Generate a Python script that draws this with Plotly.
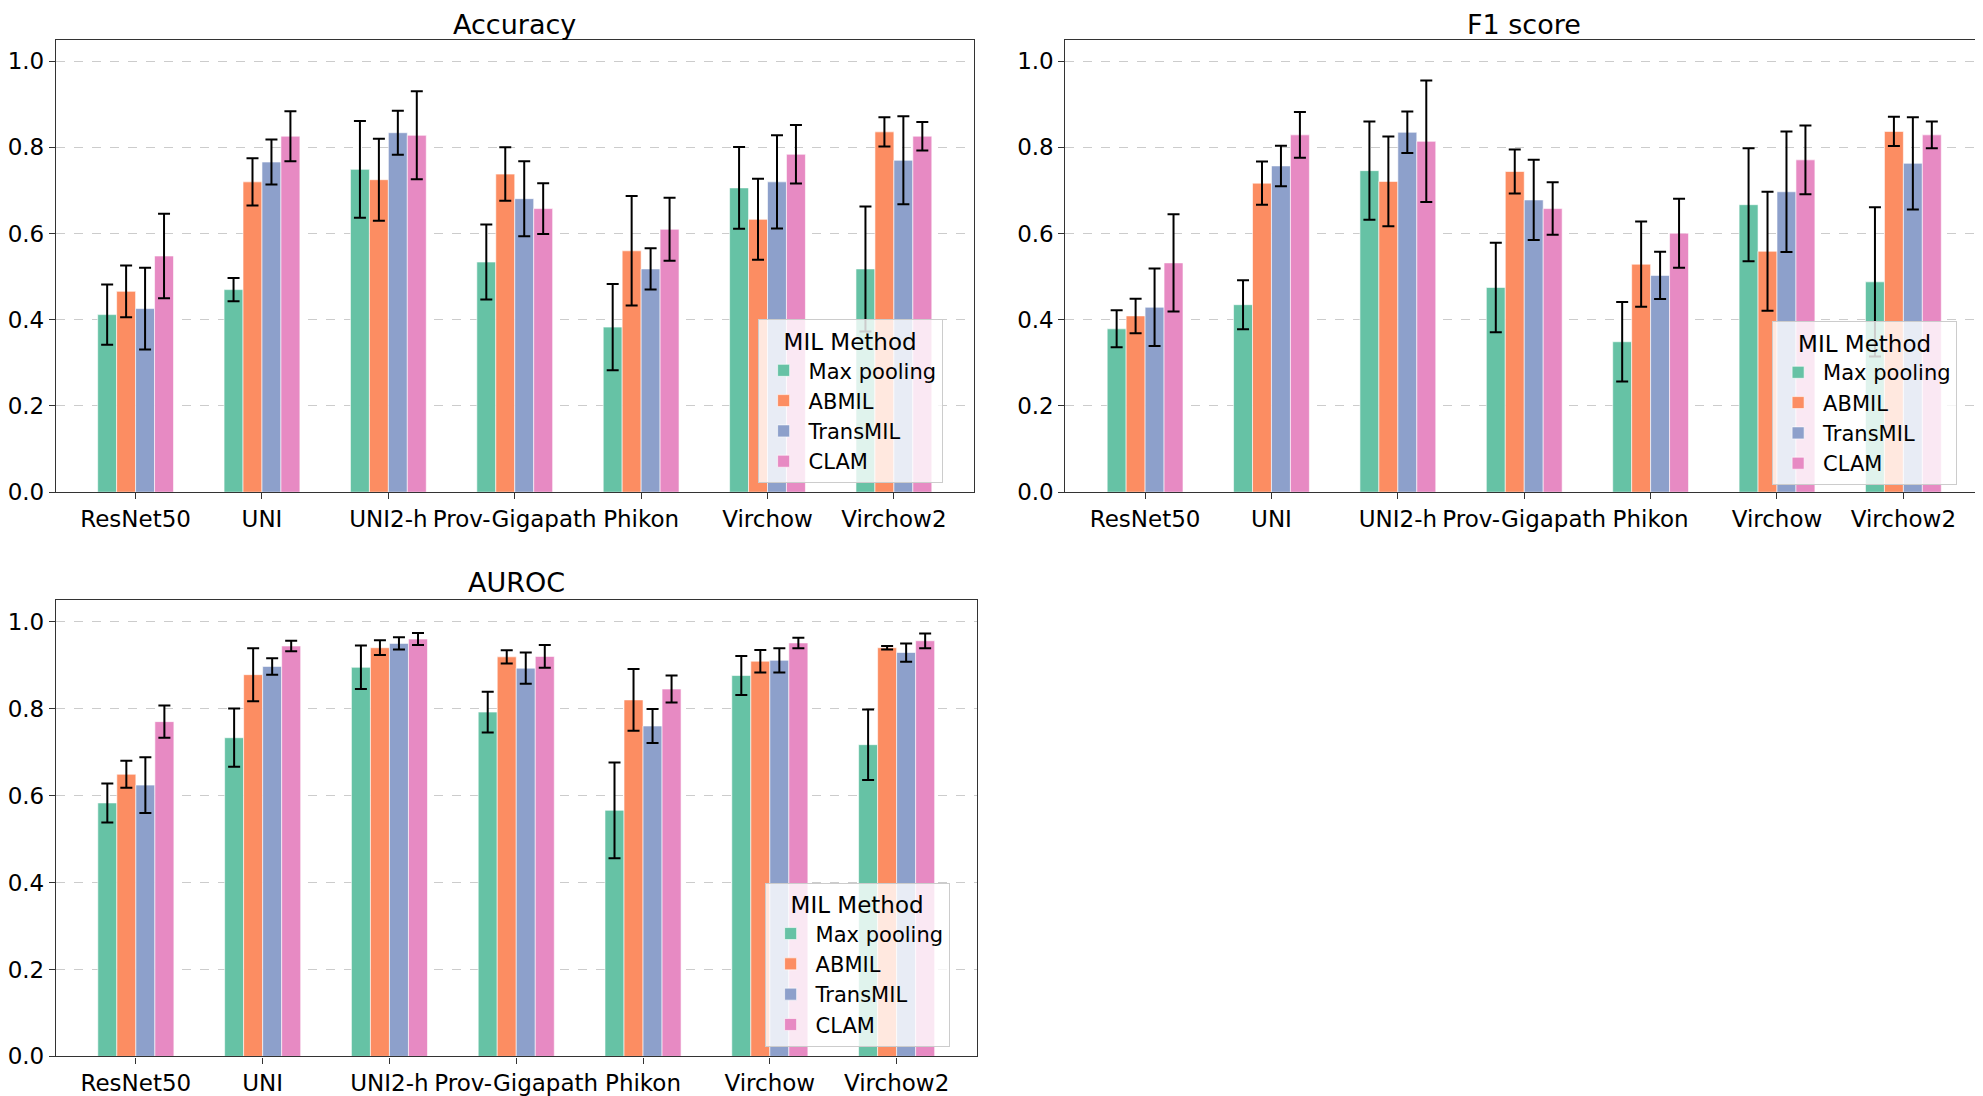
import plotly.graph_objects as go

categories = ["ResNet50", "UNI", "UNI2-h", "Prov-Gigapath", "Phikon", "Virchow", "Virchow2"]
methods = ["Max pooling", "ABMIL", "TransMIL", "CLAM"]
colors = ["#66c2a5", "#fc8d62", "#8da0cb", "#e78ac3"]

# Accuracy (mean, std) per method
acc_max = [0.412, 0.470, 0.749, 0.534, 0.383, 0.706, 0.518]
acc_max_err = [0.070, 0.027, 0.112, 0.087, 0.100, 0.095, 0.145]
acc_ab = [0.466, 0.720, 0.725, 0.738, 0.560, 0.633, 0.836]
acc_ab_err = [0.060, 0.055, 0.095, 0.062, 0.127, 0.094, 0.034]
acc_tr = [0.426, 0.766, 0.834, 0.681, 0.518, 0.720, 0.770]
acc_tr_err = [0.095, 0.052, 0.051, 0.087, 0.048, 0.108, 0.102]
acc_cl = [0.548, 0.826, 0.828, 0.658, 0.610, 0.784, 0.826]
acc_cl_err = [0.098, 0.058, 0.102, 0.059, 0.073, 0.068, 0.033]

# F1 score
f1_max = [0.379, 0.435, 0.746, 0.475, 0.349, 0.667, 0.488]
f1_max_err = [0.043, 0.057, 0.114, 0.104, 0.092, 0.131, 0.173]
f1_ab = [0.409, 0.717, 0.721, 0.744, 0.529, 0.559, 0.837]
f1_ab_err = [0.040, 0.050, 0.104, 0.051, 0.099, 0.138, 0.034]
f1_tr = [0.429, 0.757, 0.835, 0.678, 0.503, 0.697, 0.763]
f1_tr_err = [0.090, 0.047, 0.048, 0.093, 0.055, 0.140, 0.107]
f1_cl = [0.532, 0.829, 0.814, 0.658, 0.601, 0.771, 0.829]
f1_cl_err = [0.113, 0.053, 0.141, 0.061, 0.080, 0.080, 0.031]

# AUROC
au_max = [0.583, 0.733, 0.895, 0.792, 0.566, 0.876, 0.717]
au_max_err = [0.045, 0.067, 0.050, 0.047, 0.110, 0.045, 0.081]
au_ab = [0.649, 0.878, 0.940, 0.919, 0.820, 0.909, 0.940]
au_ab_err = [0.031, 0.061, 0.017, 0.015, 0.071, 0.026, 0.004]
au_tr = [0.624, 0.897, 0.950, 0.893, 0.760, 0.911, 0.929]
au_tr_err = [0.064, 0.019, 0.014, 0.036, 0.039, 0.028, 0.021]
au_cl = [0.770, 0.944, 0.960, 0.920, 0.845, 0.951, 0.956]
au_cl_err = [0.037, 0.012, 0.014, 0.026, 0.031, 0.012, 0.017]

panels = [
    ("Accuracy", [acc_max, acc_ab, acc_tr, acc_cl], [acc_max_err, acc_ab_err, acc_tr_err, acc_cl_err]),
    ("F1 score", [f1_max, f1_ab, f1_tr, f1_cl], [f1_max_err, f1_ab_err, f1_tr_err, f1_cl_err]),
    ("AUROC", [au_max, au_ab, au_tr, au_cl], [au_max_err, au_ab_err, au_tr_err, au_cl_err]),
]

W, H = 1983, 1096
FONT = "DejaVu Sans"

# panel boxes in pixels: (left, right, top, bottom)
boxes = [(47, 965, 32, 490), (1057, 1975, 32, 490), (47, 968, 599, 1061)]
legend_pos = [(749, 315), (1764, 317), (756, 885)]
title_top = [0, 0, 565]

fig = go.Figure()
for p, (title, vals, errs) in enumerate(panels):
    ax = "" if p == 0 else str(p + 1)
    leg = "legend" if p == 0 else "legend" + str(p + 1)
    for m, method in enumerate(methods):
        fig.add_trace(go.Bar(
            x=categories, y=vals[m], name=method,
            marker=dict(color=colors[m], line=dict(color="rgba(255,255,255,0.6)", width=1)),
            error_y=dict(type="data", array=errs[m], color="black", thickness=2, width=6),
            xaxis="x" + ax, yaxis="y" + ax, legend=leg,
            offsetgroup=str(m),
        ))

layout = dict(
    width=W, height=H, margin=dict(l=0, r=0, t=0, b=0),
    paper_bgcolor="white", plot_bgcolor="white",
    barmode="group", bargap=0.4, bargroupgap=0.0,
    font=dict(family=FONT, size=23, color="black"),
)
annotations = []
for p, (title, _, _) in enumerate(panels):
    l, r, t, b = boxes[p]
    ax = "" if p == 0 else str(p + 1)
    layout["xaxis" + ax] = dict(
        domain=[l / W, r / W], anchor="y" + ax, type="category",
        range=[-0.63, 6.63], showline=True, mirror=True, linecolor="#333", linewidth=1.3,
        ticks="outside", ticklen=6, tickcolor="#333", showgrid=False,
        tickfont=dict(family=FONT, size=23, color="black"),
    )
    layout["yaxis" + ax] = dict(
        domain=[1 - b / H, 1 - t / H], anchor="x" + ax,
        range=[0, 1.05], tickvals=[0, 0.2, 0.4, 0.6, 0.8, 1.0], tickformat=".1f",
        showline=True, mirror=True, linecolor="#333", linewidth=1.3,
        ticks="outside", ticklen=6, tickcolor="#333",
        showgrid=True, gridcolor="#cccccc", griddash="dash", gridwidth=1,
        zeroline=False, tickfont=dict(family=FONT, size=23, color="black"),
    )
    annotations.append(dict(
        text=title, x=(l + r) / 2 / W, y=1 - title_top[p] / H, xref="paper", yref="paper",
        xanchor="center", yanchor="top", showarrow=False, borderpad=0,
        font=dict(family=FONT, size=27, color="black"),
    ))
    lx, ly = legend_pos[p]
    layout["legend" if p == 0 else "legend" + str(p + 1)] = dict(
        x=lx / W, y=1 - ly / H, xanchor="left", yanchor="top",
        bgcolor="rgba(255,255,255,0.8)", bordercolor="#cccccc", borderwidth=1,
        font=dict(family=FONT, size=21, color="black"),
        title=dict(text="MIL Method", side="top center", font=dict(family=FONT, size=23, color="black")),
        itemwidth=40, tracegroupgap=5,
    )
layout["annotations"] = annotations
fig.update_layout(**layout)

fig.write_html("out.html")
